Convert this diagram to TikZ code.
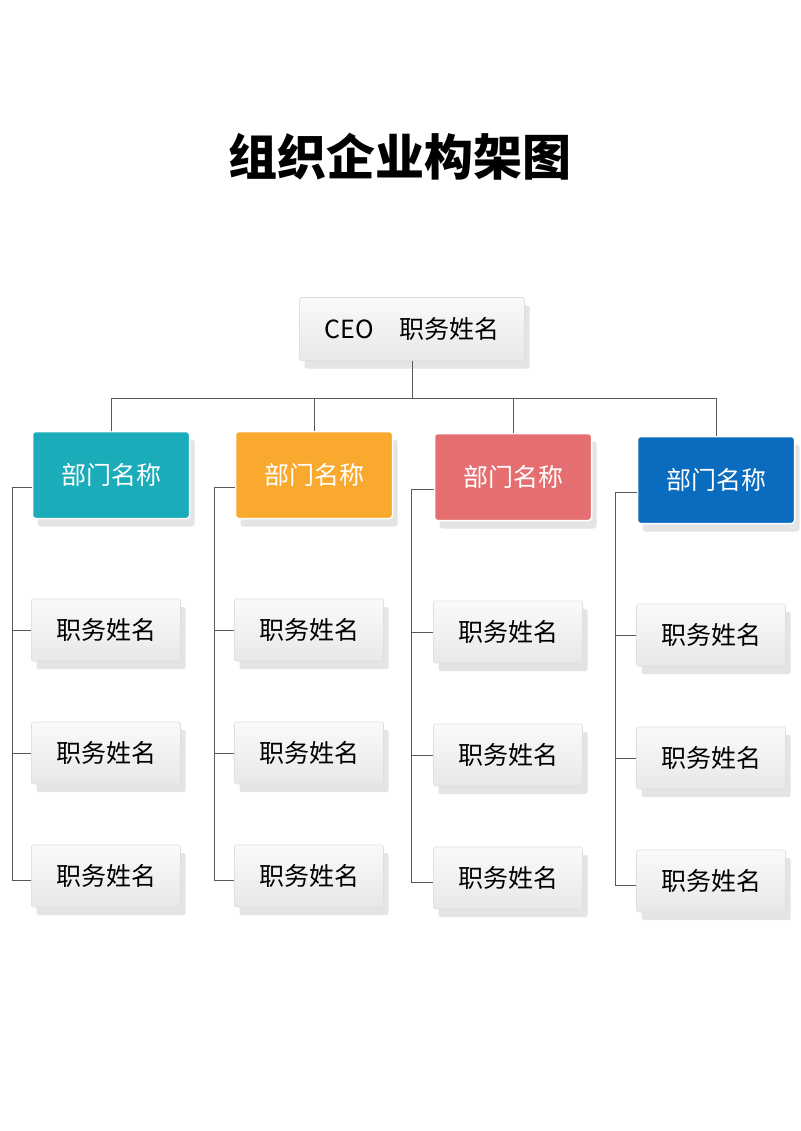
\documentclass[tikz,border=0pt]{standalone}
\usepackage{fontspec}
\newfontfamily\cjk{Noto Sans CJK SC}
\usetikzlibrary{shadows}
\definecolor{cA}{HTML}{1AACB8}
\definecolor{cB}{HTML}{F9A92E}
\definecolor{cC}{HTML}{E56F70}
\definecolor{cD}{HTML}{0A6CBF}
\tikzset{
 gbox/.style={rounded corners=2pt, top color=gray!4, bottom color=gray!18, draw=gray!25, line width=0.6pt,
   drop shadow={shadow xshift=5pt, shadow yshift=-8pt, fill=gray!60, opacity=0.35},
   minimum width=149pt, minimum height=62pt, font=\cjk\fontsize{25}{30}\selectfont, text=black},
 dbox/.style={rounded corners=3pt, fill=#1, draw=white, line width=1.5pt,
   drop shadow={shadow xshift=5pt, shadow yshift=-8pt, fill=gray!60, opacity=0.35},
   minimum width=157pt, minimum height=87pt, font=\cjk\fontsize{25}{30}\selectfont, text=white},
 conn/.style={draw=gray!70!black, line width=0.8pt}
}
\begin{document}
\begin{tikzpicture}[x=1pt,y=-1pt]
\useasboundingbox[fill=white] (0,0) rectangle (800,1131);
\node (title) [font=\cjk\bfseries\fontsize{49}{55}\selectfont, text=black] at (400,157) {组织企业构架图};
\node (ceo) [gbox, minimum width=225pt, minimum height=63pt] at (412,329) {CEO\quad 职务姓名};
\coordinate (bus) at (412,398);
\foreach \i/\x/\y/\c/\lx in {1/111/475/cA/12, 2/314/475/cB/214, 3/513/477/cC/411, 4/716/480/cD/615}{
  \node (d\i) [dbox=\c] at (\x,\y) {部门名称};
  \draw[conn] (ceo.south) -- (bus) -| (d\i.north);
  \node (s\i a) [gbox] at (\x-5,\y+155) {职务姓名};
  \node (s\i b) [gbox] at (\x-5,\y+278) {职务姓名};
  \node (s\i c) [gbox] at (\x-5,\y+401) {职务姓名};
  \coordinate (t\i) at (\lx,\y+12);
  \coordinate (e\i) at (\lx,\y+405);
  \draw[conn] (d\i.west |- t\i) -- (t\i) -- (e\i) -- (s\i c.west |- e\i);
  \draw[conn] (\lx,\y+155) -- (s\i a.west |- 0,\y+155);
  \draw[conn] (\lx,\y+278) -- (s\i b.west |- 0,\y+278);
}
\end{tikzpicture}
\end{document}
